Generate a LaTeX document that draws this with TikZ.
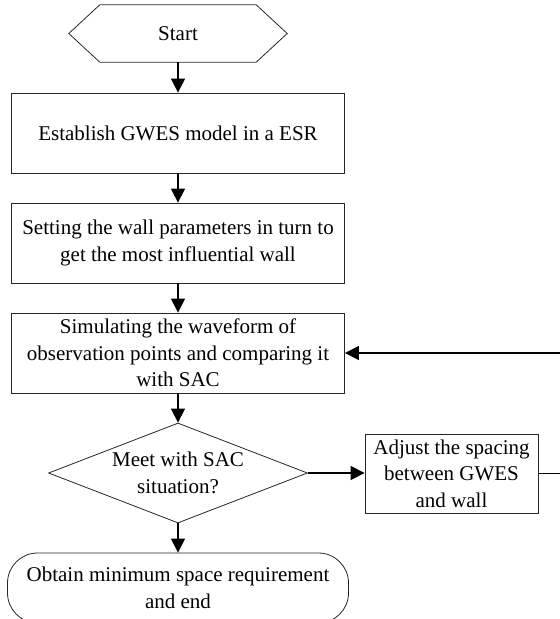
\documentclass[tikz,border=0pt]{standalone}
\usepackage{fontspec}
\setmainfont{Liberation Serif}
\usetikzlibrary{arrows.meta,shapes.geometric}
\tikzset{
  box/.style={draw=black!85, line width=0.8pt, rectangle, inner sep=0pt, align=center},
  plain/.style={inner sep=0pt, align=center},
  arr/.style={line width=1.3pt, -{Triangle[length=14pt,width=14pt]}},
  conn/.style={line width=1.3pt},
}
\begin{document}
\begin{tikzpicture}[x=1pt,y=-1pt,font=\fontsize{21pt}{26.5pt}\selectfont]
\clip (0,0) rectangle (560,619);
% start hexagon
\node[plain, minimum width=218pt, minimum height=57pt] (start) at (178,33.5) {Start};
\draw[line width=0.8pt, draw=black!85] (start.west) -- ([xshift=31pt]start.north west) -- ([xshift=-31pt]start.north east)
  -- (start.east) -- ([xshift=-31pt]start.south east) -- ([xshift=31pt]start.south west) -- cycle;
\node[box, minimum width=333pt, minimum height=80pt] (b1) at (178,133) {Establish GWES model in a ESR};
\node[box, minimum width=333pt, minimum height=80pt] (b2) at (178,243) {Setting the wall parameters in turn to\\get the most influential wall};
\node[box, minimum width=333pt, minimum height=80pt] (b3) at (178,353) {Simulating the waveform of\\observation points and comparing it\\with SAC};
\node[draw=black!85, line width=0.8pt, diamond, aspect=2.59, inner sep=0pt, minimum width=259pt, minimum height=100pt, align=center] (dia) at (178,473) {Meet with SAC\\situation?};
\node[box, minimum width=173pt, minimum height=79pt] (adj) at (451.5,473.5) {Adjust the spacing\\between GWES\\and wall};
\node[box, rounded corners=30pt, minimum width=341pt, minimum height=70pt] (end) at (178,588) {Obtain minimum space requirement\\and end};
\coordinate (rb) at (562,473.5);
\coordinate (rt) at (562,353);
\draw[arr] (start.south) -- (b1.north);
\draw[arr] (b1.south) -- (b2.north);
\draw[arr] (b2.south) -- (b3.north);
\draw[arr] (b3.south) -- (dia.north);
\draw[arr] (dia.south) -- (end.north);
\draw[arr] (dia.east) -- (dia.east -| adj.west);
\draw[arr] (adj.east) -- (rb) -- (rt) -- (b3.east);
\end{tikzpicture}
\end{document}
